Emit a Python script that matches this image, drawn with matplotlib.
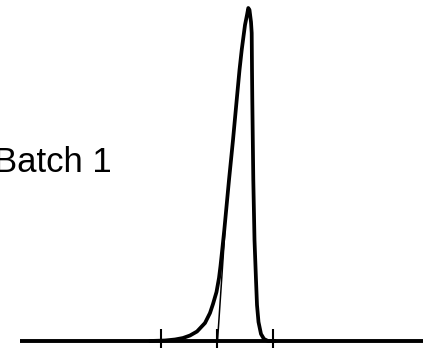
import matplotlib
matplotlib.use("Agg")
import matplotlib.pyplot as plt

# Elution profile of batch 1 (time in chart units, detector signal above baseline)
time = [150, 165, 175, 183, 190, 197, 205, 210, 213, 216.5, 219, 220.5, 222, 224.3,
        229, 233, 236.7, 239.5, 241.7, 245, 247, 248.3, 249.5, 251, 251.7, 252,
        252.3, 253.3, 254.5, 256, 257, 258.5, 261, 264, 268, 275]
signal = [0, 0.5, 1.5, 3, 5.5, 9.5, 18, 28, 37, 49, 63, 75, 89, 111,
          161, 201, 241, 271, 291, 316, 326, 333, 331, 319, 308, 271,
          241, 161, 101, 61, 36, 19, 7, 2, 0, 0]

# Integration markers on the baseline and the tangent on the leading edge
marker_times = [160.5, 217, 272.5]
tangent_time = [217.5, 225]
tangent_signal = [0, 111]

baseline_span = [20, 423]
label = "Batch 1"

fig = plt.figure(figsize=(4.23, 3.48), dpi=100)
ax = fig.add_axes([0, 0, 1, 1])
ax.set_xlim(0, 423)
ax.set_ylim(-7, 341)
ax.axis("off")

# baseline
ax.plot(baseline_span, [0, 0], color="black", lw=2.8, solid_capstyle="butt")

# tick marks crossing the baseline
for t in marker_times:
    ax.plot([t, t], [-7, 12], color="black", lw=1.5, solid_capstyle="butt")

# thin tangent line
ax.plot(tangent_time, tangent_signal, color="black", lw=1.1)

# the peak itself
ax.plot(time, signal, color="black", lw=2.7, solid_joinstyle="round",
        solid_capstyle="round")

ax.text(-6, 169, label, fontsize=25, family="Liberation Sans",
        ha="left", va="baseline", color="black")

fig.savefig("out.png", dpi=100)
